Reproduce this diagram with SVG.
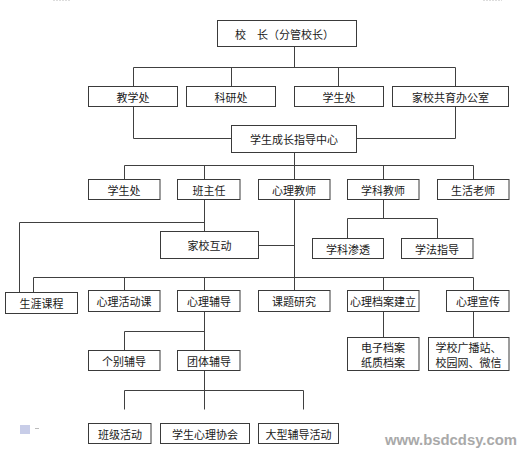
<svg xmlns="http://www.w3.org/2000/svg" width="525" height="449" viewBox="0 0 525 449">
<style>
.box{fill:#fff;stroke:#3a3a3a;stroke-width:1}
.t{font-family:"Noto Sans CJK SC","Noto Sans",sans-serif;font-size:11px;fill:#1a1a1a;text-anchor:middle;dominant-baseline:central}
.c{fill:none;stroke:#404040;stroke-width:1}
</style>
<rect width="525" height="449" fill="#fff"/>
<line x1="53" y1="0.5" x2="70" y2="0.5" stroke="#ddd" stroke-dasharray="2,1"/>
<line x1="483" y1="0.5" x2="502" y2="0.5" stroke="#ddd" stroke-dasharray="2,1"/>
<g id="connectors" class="c">
<path d="M294.5 47 V67.5 M133.5 86.5 V67.5 H455.5 V86.5 M231.5 67.5 V86.5 M338.5 67.5 V86.5"/>
<path d="M133.5 106.5 V138.5 H231.5 M455.5 106.5 V138.5 H356.5"/>
<path d="M294.5 152.5 V179.5 M124.5 179.5 V165.5 H473.5 V179.5 M204.5 165.5 V179.5 M383.5 165.5 V179.5"/>
<path d="M204.5 199.5 V231.5 M19.5 292.5 V222.5 H204.5"/>
<path d="M294.5 199.5 V277.5 M258.5 245.5 H294.5"/>
<path d="M383.5 199.5 V218.5 M347.5 238.5 V218.5 H437.5 V238.5"/>
<path d="M33.5 292.5 V277.5 H473.5 V290.5 M124.5 277.5 V290.5 M204.5 277.5 V290.5 M294.5 277.5 V290.5 M383.5 277.5 V290.5"/>
<path d="M204.5 311.5 V350.5 M124.5 350.5 V331.5 H204.5"/>
<path d="M204.5 370.5 V409.5 M124.5 409.5 V390.5 H303.5 V409.5"/>
<path d="M383.5 311.5 V337.5 M473.5 311.5 V337.5"/>
</g>
<g id="principal"><rect class="box" x="217.5" y="20.5" width="139" height="26"/><text class="t" x="235" y="33.5" style="text-anchor:start">校　长（分管校长）</text></g>
<g id="jiaoxue"><rect class="box" x="88.5" y="86.5" width="89" height="20"/><text class="t" x="133" y="96.5">教学处</text></g>
<g id="keyan"><rect class="box" x="186.5" y="86.5" width="89" height="20"/><text class="t" x="231" y="96.5">科研处</text></g>
<g id="xuesheng1"><rect class="box" x="294.5" y="86.5" width="89" height="20"/><text class="t" x="339" y="96.5">学生处</text></g>
<g id="jiaxiao"><rect class="box" x="392.5" y="86.5" width="116" height="20"/><text class="t" x="450.5" y="96.5">家校共育办公室</text></g>
<g id="center"><rect class="box" x="231.5" y="125.5" width="125" height="27"/><text class="t" x="294" y="139">学生成长指导中心</text></g>
<g id="xuesheng2"><rect class="box" x="88.5" y="179.5" width="71.5" height="20"/><text class="t" x="124" y="189.5">学生处</text></g>
<g id="banzhuren"><rect class="box" x="177.5" y="179.5" width="62.5" height="20"/><text class="t" x="209" y="189.5">班主任</text></g>
<g id="xinlijiaoshi"><rect class="box" x="258.5" y="179.5" width="71.5" height="20"/><text class="t" x="294" y="189.5">心理教师</text></g>
<g id="xuekejiaoshi"><rect class="box" x="347.5" y="179.5" width="71.5" height="20"/><text class="t" x="383" y="189.5">学科教师</text></g>
<g id="shenghuo"><rect class="box" x="437.5" y="179.5" width="71.5" height="20"/><text class="t" x="473" y="189.5">生活老师</text></g>
<g id="jiaxiaohudong"><rect class="box" x="160.5" y="231.5" width="98" height="27"/><text class="t" x="209.5" y="245">家校互动</text></g>
<g id="xuekeshentou"><rect class="box" x="312.5" y="238.5" width="71" height="20"/><text class="t" x="348" y="248.5">学科渗透</text></g>
<g id="xuefa"><rect class="box" x="401.5" y="238.5" width="71.5" height="20"/><text class="t" x="437" y="248.5">学法指导</text></g>
<g id="shengya"><rect class="box" x="5.5" y="292.5" width="72" height="21"/><text class="t" x="41.5" y="303">生涯课程</text></g>
<g id="huodongke"><rect class="box" x="88.5" y="290.5" width="71.5" height="21"/><text class="t" x="124" y="301">心理活动课</text></g>
<g id="fudao"><rect class="box" x="177.5" y="290.5" width="62.5" height="21"/><text class="t" x="209" y="301">心理辅导</text></g>
<g id="keti"><rect class="box" x="258.5" y="290.5" width="71.5" height="21"/><text class="t" x="294" y="301">课题研究</text></g>
<g id="dangan"><rect class="box" x="347.5" y="290.5" width="71.5" height="21"/><text class="t" x="383" y="301">心理档案建立</text></g>
<g id="xuanchuan"><rect class="box" x="446.5" y="290.5" width="62.5" height="21"/><text class="t" x="478" y="301">心理宣传</text></g>
<g id="gebie"><rect class="box" x="88.5" y="350.5" width="71.5" height="20"/><text class="t" x="124" y="360.5">个别辅导</text></g>
<g id="tuanti"><rect class="box" x="177.5" y="350.5" width="62.5" height="20"/><text class="t" x="209" y="360.5">团体辅导</text></g>
<g id="dianzi"><rect class="box" x="347.5" y="337.5" width="71.5" height="33"/><text class="t" x="383" y="346.5">电子档案</text><text class="t" x="383" y="361.5">纸质档案</text></g>
<g id="guangbo"><rect class="box" x="428.5" y="337.5" width="80.5" height="33"/><text class="t" x="468.5" y="346.5">学校广播站、</text><text class="t" x="468.5" y="361.5">校园网、微信</text></g>
<g id="banji"><rect class="box" x="88.5" y="423.5" width="62.5" height="20"/><text class="t" x="120" y="433.5">班级活动</text></g>
<g id="xiehui"><rect class="box" x="160.5" y="423.5" width="89" height="20"/><text class="t" x="205" y="433.5">学生心理协会</text></g>
<g id="daxing"><rect class="box" x="258.5" y="423.5" width="80" height="20"/><text class="t" x="298.5" y="433.5">大型辅导活动</text></g>
<rect x="20" y="425" width="10" height="9" fill="#c8cde8"/>
<path d="M35 428.5 H39" stroke="#bbb"/>
<text x="385" y="445" font-family="Liberation Sans,Arial,sans-serif" font-size="14" font-weight="bold" fill="#a9a9a9" textLength="132" lengthAdjust="spacingAndGlyphs">www.bsdcdsy.com</text>
</svg>
